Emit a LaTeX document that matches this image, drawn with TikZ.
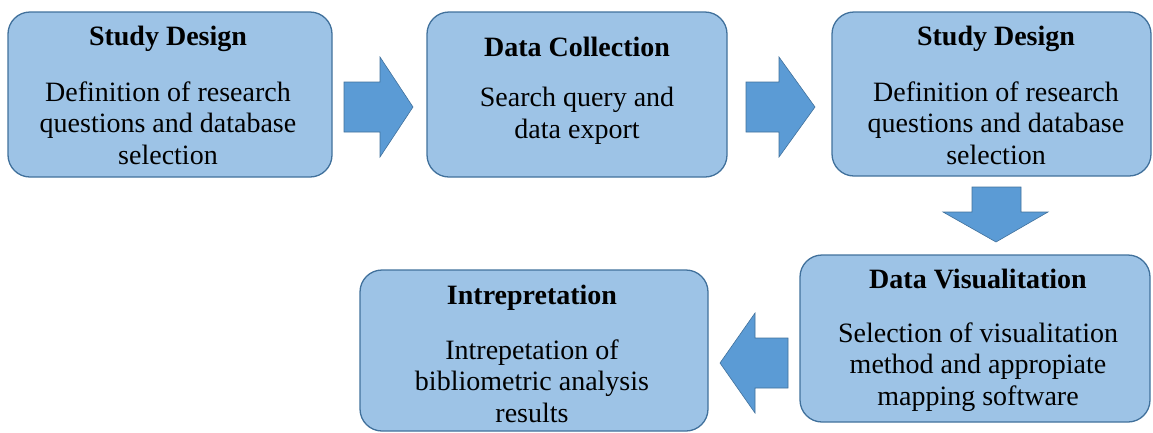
\documentclass[tikz,border=0pt]{standalone}
\usepackage{fontspec}
\setmainfont{Liberation Serif}
\definecolor{boxfill}{HTML}{9DC3E6}
\definecolor{boxline}{HTML}{41719C}
\definecolor{arrfill}{HTML}{5B9BD5}
\begin{document}
\begin{tikzpicture}[x=1pt,y=-1pt,
  box/.style={draw=boxline, line width=1.3pt, fill=boxfill, rounded corners=22pt, inner sep=0pt},
  ttl/.style={font=\fontsize{28}{31.5}\selectfont\bfseries, inner sep=0pt},
  body/.style={font=\fontsize{28}{31.5}\selectfont, align=center, inner sep=0pt},
  blk/.style={fill=arrfill, draw=boxline, line width=0.6pt, line join=miter}]
\useasboundingbox (0,0) rectangle (1153,432);
% boxes
\node[box, minimum width=324, minimum height=165] (b1) at (170,94.5) {};
\node[box, minimum width=300, minimum height=165] (b2) at (577,94.5) {};
\node[box, minimum width=319, minimum height=164] (b3) at (991.5,94) {};
\node[box, minimum width=350, minimum height=167] (b4) at (975,338.5) {};
\node[box, minimum width=348, minimum height=161] (b5) at (534,350.5) {};
% texts
\node[ttl] (t1) at (168,39) {Study Design};
\node[body] (d1) at (168,123) {Definition of research\\questions and database\\selection};
\node[ttl] (t2) at (577,47) {Data Collection};
\node[body] (d2) at (577,116) {Search query and\\data export};
\node[ttl] (t3) at (996,39) {Study Design};
\node[body] (d3) at (996,123) {Definition of research\\questions and database\\selection};
\node[ttl] (t4) at (978,279) {Data Visualitation};
\node[body] (d4) at (978,367) {Selection of visualitation\\method and appropiate\\mapping software};
\node[ttl] (t5) at (532,298) {Intrepretation};
\node[body] (d5) at (532,381) {Intrepetation of\\bibliometric analysis\\results};
% block arrows
\draw[blk] (344,82) -- (380,82) -- (380,57) -- (413,107) -- (380,157) -- (380,132) -- (344,132) -- cycle;
\draw[blk] (746,82) -- (779,82) -- (779,57) -- (815,107) -- (779,157) -- (779,132) -- (746,132) -- cycle;
\draw[blk] (972,187) -- (1021,187) -- (1021,212) -- (1048,212) -- (996,242) -- (943,212) -- (972,212) -- cycle;
\draw[blk] (788,338) -- (755,338) -- (755,313) -- (720,363) -- (755,413) -- (755,388) -- (788,388) -- cycle;
\end{tikzpicture}
\end{document}
